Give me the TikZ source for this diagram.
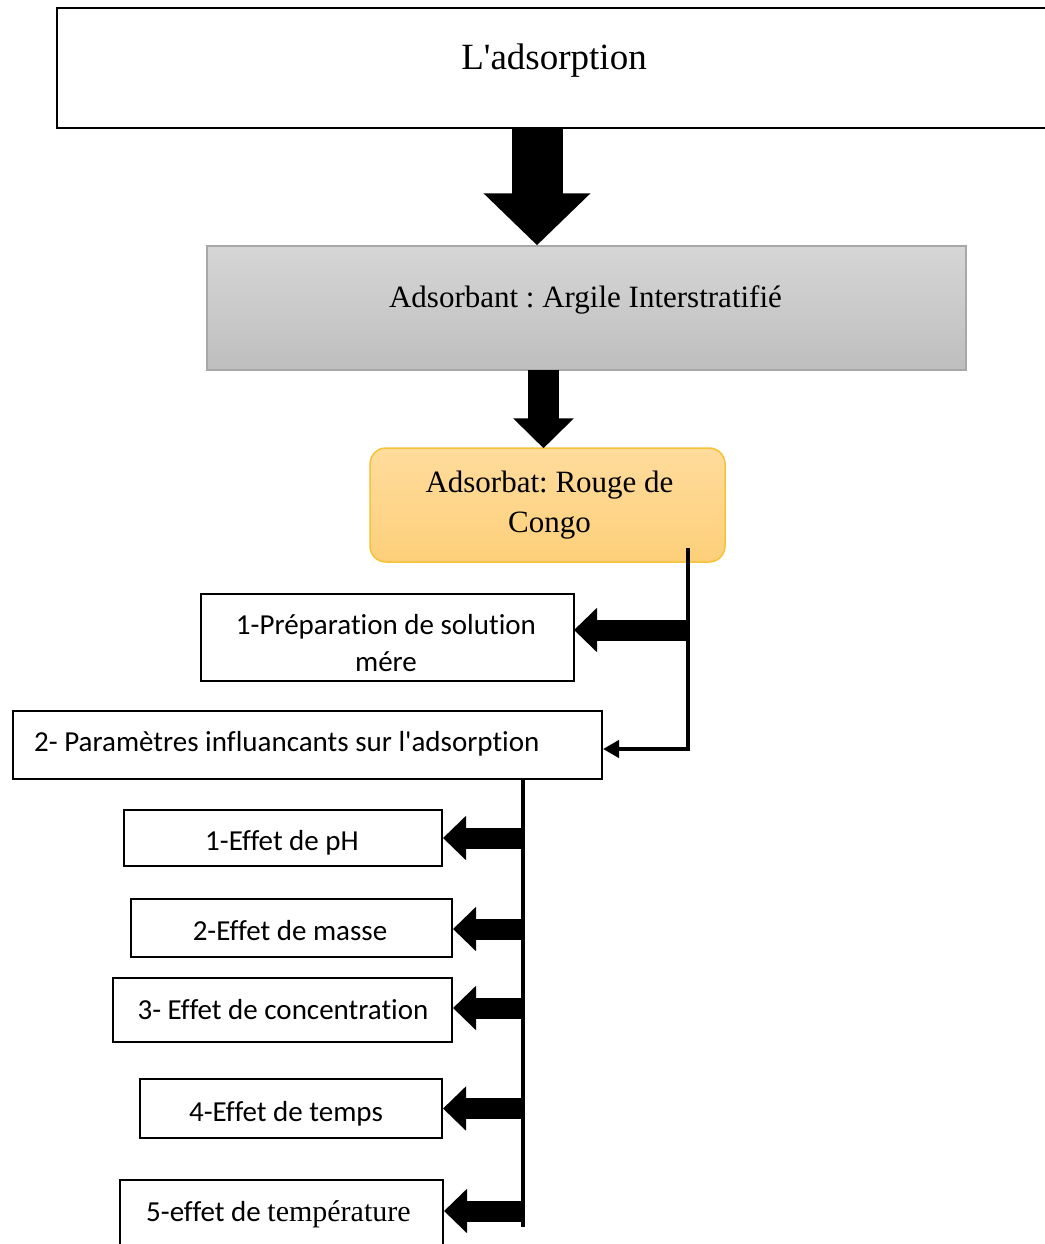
\documentclass[tikz,border=0pt]{standalone}
\usepackage{fontspec}
\setmainfont{Liberation Serif}[Ligatures=NoCommon]
\newfontfamily\calfont{Carlito}[Ligatures=NoCommon]
\usetikzlibrary{arrows.meta}
\frenchspacing
\definecolor{grayTop}{HTML}{D6D6D6}
\definecolor{grayBot}{HTML}{BEBEBE}
\definecolor{grayEdge}{HTML}{A8A8A8}
\definecolor{orTop}{HTML}{FFDC9C}
\definecolor{orBot}{HTML}{FDCF7A}
\definecolor{orEdge}{HTML}{F7C236}
\tikzset{
  box/.style={draw, line width=2pt, inner sep=0pt},
  serif/.style={font=\fontsize{31}{40}\selectfont, inner sep=0pt, anchor=base},
  sans/.style={font=\calfont\fontsize{29}{37}\selectfont, inner sep=0pt, anchor=base},
  conn/.style={line width=4pt},
  fatarrow/.style={line width=21pt, -{Triangle[length=23pt,width=43pt]}},
}
\begin{document}
\begin{tikzpicture}[x=1pt,y=-1pt]
\useasboundingbox (0,0) rectangle (1044,1244);
% boxes
\node[box, minimum width=993pt, minimum height=120pt] (top) at (553.5,68) {};
\node[draw=grayEdge, line width=1.5pt, top color=grayTop, bottom color=grayBot, inner sep=0pt,
      minimum width=759pt, minimum height=124pt] (gray) at (586.5,308) {};
\node[draw=orEdge, line width=1.5pt, top color=orTop, bottom color=orBot, rounded corners=16pt, inner sep=0pt,
      minimum width=355pt, minimum height=114pt] (orange) at (547.5,505) {};
\node[box, minimum width=373pt, minimum height=87pt] (p1) at (387.5,637.5) {};
\node[box, minimum width=589pt, minimum height=68pt] (p2) at (307.5,745) {};
\node[box, minimum width=318pt, minimum height=56pt] (e1) at (283,838) {};
\node[box, minimum width=321pt, minimum height=58pt] (e2) at (291.5,928) {};
\node[box, minimum width=339pt, minimum height=64pt] (e3) at (282.5,1010) {};
\node[box, minimum width=302pt, minimum height=59pt] (e4) at (291,1108.5) {};
\node[box, minimum width=323pt, minimum height=70pt] (e5) at (281.5,1215) {};
% texts
\node[serif, font=\fontsize{37}{44}\selectfont] (ttext) at (554,70) {L\textquotesingle adsorption};
\node[serif] (gtext) at (585.5,307) {Adsorbant : Argile Interstratifié};
\node[serif] (otext1) at (549.5,492) {Adsorbat: Rouge de};
\node[serif] (otext2) at (549.5,532) {Congo};
\node[sans] (p1text1) at (386,634) {1-Préparation de solution};
\node[sans] (p1text2) at (386,671) {mére};
\node[sans, anchor=base west] (p2text) at (34,751) {2- Paramètres influancants sur l'adsorption};
\node[sans] (e1text) at (282,850) {1-Effet de pH};
\node[sans] (e2text) at (290,940) {2-Effet de masse};
\node[sans] (e3text) at (283,1019) {3- Effet de concentration};
\node[sans] (e4text) at (286,1121) {4-Effet de temps};
\node[sans, anchor=base west] (e5text) at (146,1221) {\calfont 5-effet de \rmfamily\fontsize{30}{37}\selectfont température};
% big down arrows
\coordinate (a1) at (537,128);
\draw[line width=51pt, -{Triangle[length=52pt,width=104pt]}] (a1) -- (a1 |- gray.north);
\coordinate (a2) at (543.5,370);
\draw[line width=31pt, -{Triangle[length=30pt,width=59pt]}] (a2) -- ([yshift=-1pt]a2 |- orange.north);
% first branch line
\coordinate (v1top) at (688,548);
\coordinate (v1bot) at (688,749);
\draw[conn, -{Triangle[length=16pt,width=17pt]}] (v1top) -- (v1bot) -- (v1bot -| p2.east);
\coordinate (p1tip) at (574,630);
\draw[fatarrow] (p1tip -| v1top) -- (p1tip);
% second branch line
\coordinate (v2top) at (523,779);
\coordinate (v2bot) at (523,1227);
\draw[conn] (v2top) -- (v2bot);
\draw[fatarrow] (e1.east -| v2top) -- (e1.east);
\draw[fatarrow] ([yshift=-1pt]e2.east -| v2top) -- ([yshift=-1pt]e2.east);
\draw[fatarrow] ([yshift=2pt]e3.east -| v2top) -- ([yshift=2pt]e3.east);
\draw[fatarrow] (e4.east -| v2top) -- (e4.east);
\draw[fatarrow] ([yshift=4pt]e5.east -| v2top) -- ([yshift=4pt]e5.east);
\end{tikzpicture}
\end{document}
